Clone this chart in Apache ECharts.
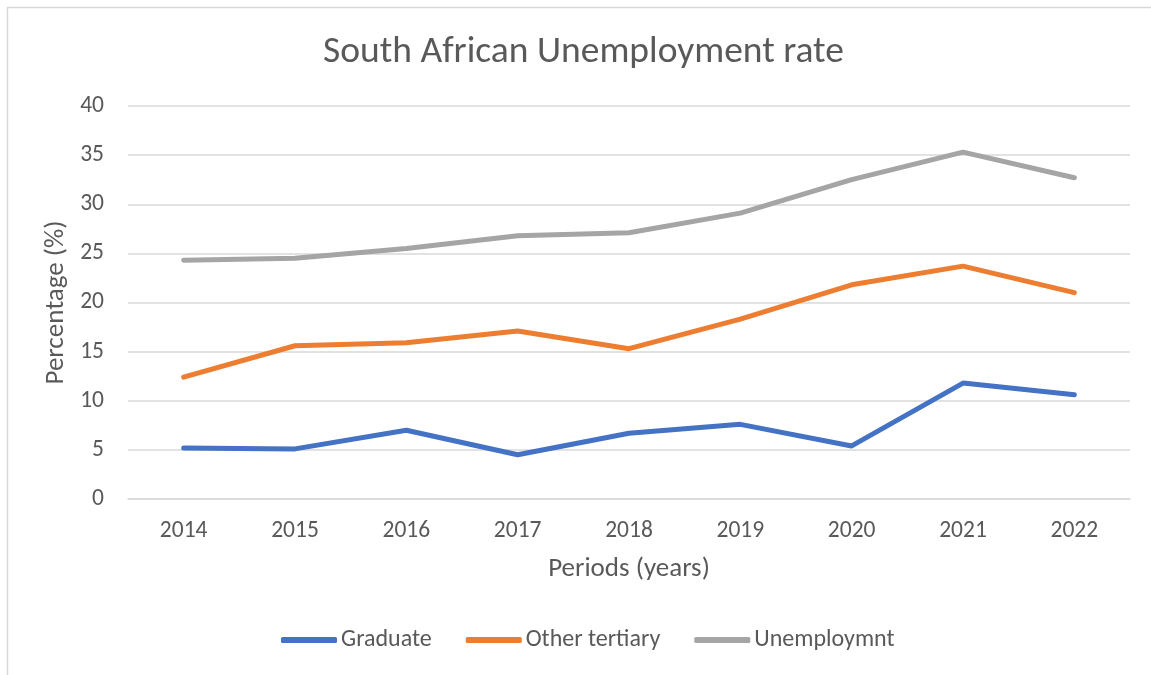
<!DOCTYPE html>
<html>
<head>
<meta charset="utf-8">
<script src="https://cdn.jsdelivr.net/npm/echarts@6/dist/echarts.min.js"></script>
<style>html,body{margin:0;padding:0;background:#fff}#c{width:1151px;height:675px}</style>
</head>
<body>
<div id="c"></div>
<script>
const years = ['2014','2015','2016','2017','2018','2019','2020','2021','2022'];
const graduate = [5.2, 5.1, 7.0, 4.5, 6.7, 7.6, 5.4, 11.8, 10.6];
const otherTertiary = [12.4, 15.6, 15.9, 17.1, 15.3, 18.3, 21.8, 23.7, 21.0];
const unemployment = [24.3, 24.5, 25.5, 26.8, 27.1, 29.1, 32.5, 35.3, 32.7];
const seriesNames = ['Graduate', 'Other tertiary', 'Unemploymnt'];
const colors = ['#4472C4', '#ED7D31', '#A5A5A5'];

const chart = echarts.init(document.getElementById('c'));
const font = 'Calibri, Carlito, "Open Sans", "Noto Sans", sans-serif';
chart.setOption({
  animation: false,
  textStyle: {fontFamily: font},
  graphic: [{
    type: 'rect', shape: {x: 7.5, y: 7.5, width: 1200, height: 700},
    style: {fill: 'none', stroke: '#D9D9D9', lineWidth: 1.5}, silent: true
  }],
  title: {
    text: 'South African Unemployment rate', left: 318, top: 29,
    textStyle: {fontFamily: font, fontSize: 37.5, fontWeight: 'normal', color: '#595959'}
  },
  legend: {
    top: 628, left: 281, padding: 0, itemWidth: 56, itemHeight: 6, itemGap: 34,
    icon: 'roundRect',
    textStyle: {fontFamily: font, fontSize: 24, color: '#595959', padding: [0, 0, 0, -1]},
    data: seriesNames
  },
  grid: {left: 128, right: 21, top: 106, bottom: 176},
  xAxis: {
    type: 'category', data: years, boundaryGap: true,
    name: 'Periods (years)', nameLocation: 'middle', nameGap: 57,
    nameTextStyle: {fontFamily: font, fontSize: 27, color: '#595959'},
    axisLine: {show: true, lineStyle: {color: '#D9D9D9', width: 1.5}},
    axisTick: {show: false},
    axisLabel: {fontFamily: font, fontSize: 23.5, color: '#595959', margin: 20}
  },
  yAxis: {
    type: 'value', min: 0, max: 40, interval: 5,
    name: 'Percentage (%)', nameLocation: 'middle', nameGap: 53,
    nameTextStyle: {fontFamily: font, fontSize: 27, color: '#595959'},
    axisLine: {show: false}, axisTick: {show: false},
    axisLabel: {fontFamily: font, fontSize: 23.5, color: '#595959', margin: 24},
    splitLine: {lineStyle: {color: '#D9D9D9', width: 1.5}}
  },
  series: [
    {name: seriesNames[0], type: 'line', data: graduate, symbol: 'none',
     lineStyle: {width: 5, color: colors[0], cap: 'round', join: 'round'}, itemStyle: {color: colors[0]}},
    {name: seriesNames[1], type: 'line', data: otherTertiary, symbol: 'none',
     lineStyle: {width: 5, color: colors[1], cap: 'round', join: 'round'}, itemStyle: {color: colors[1]}},
    {name: seriesNames[2], type: 'line', data: unemployment, symbol: 'none',
     lineStyle: {width: 5, color: colors[2], cap: 'round', join: 'round'}, itemStyle: {color: colors[2]}}
  ]
});
</script>
</body>
</html>
